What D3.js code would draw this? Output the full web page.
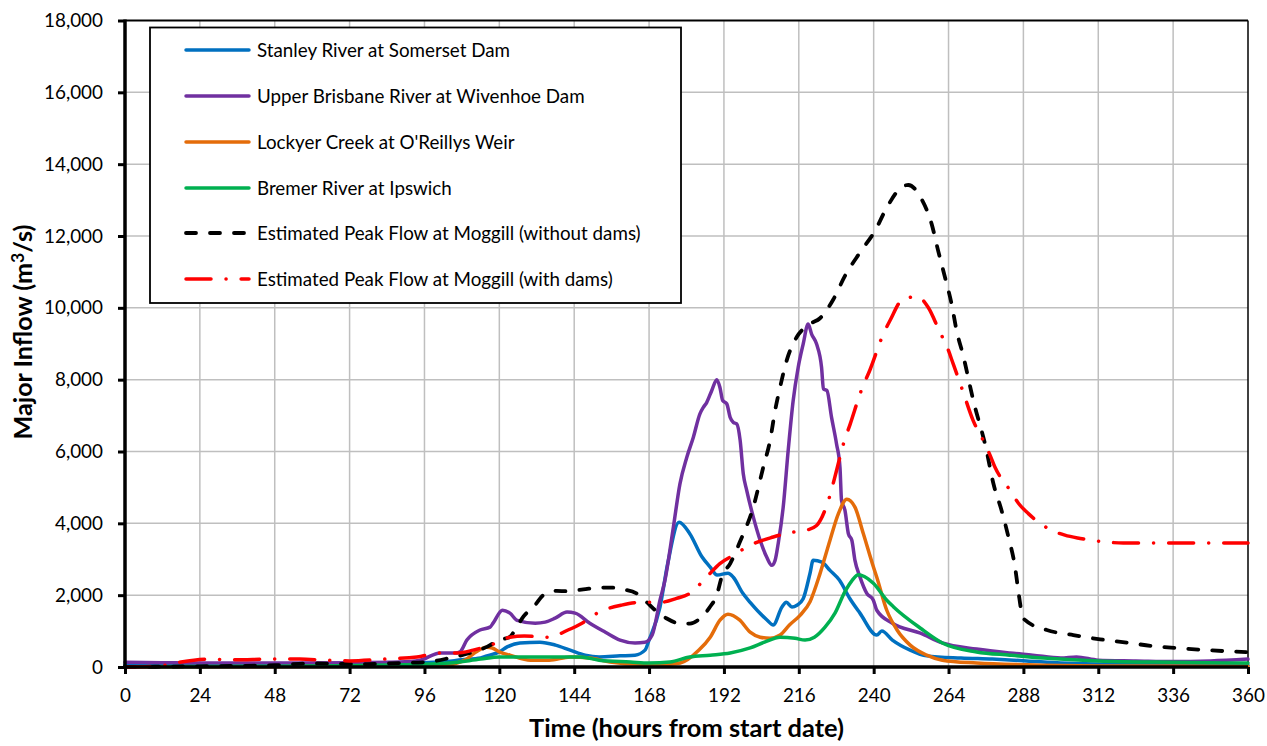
<!DOCTYPE html>
<html><head><meta charset="utf-8">
<script src="https://cdn.jsdelivr.net/npm/d3@7"></script>
<style>body{margin:0;background:#fff}svg{display:block}</style>
</head><body><svg id="c" width="1267" height="746"></svg>
<script>
// ---------- data ----------
const xTicks = d3.range(0, 361, 24);
const yTicks = d3.range(0, 18001, 2000);
const seriesNames = [
  "Stanley River at Somerset Dam",
  "Upper Brisbane River at Wivenhoe Dam",
  "Lockyer Creek at O'Reillys Weir",
  "Bremer River at Ipswich",
  "Estimated Peak Flow at Moggill (without dams)",
  "Estimated Peak Flow at Moggill (with dams)"
];
const xTitle = "Time (hours from start date)";

// [hour, flow m3/s]
const stanley = [[0,60],[24,60],[48,70],[72,80],[88,110],[101,140],[108,200],[114,250],[116,310],[120,420],[122.5,560],[126.6,670],[133,690],[138,610],[142.7,470],[147.5,330],[152,280],[158.7,310],[163.5,330],[166.7,470],[168,750],[171.5,1670],[174,2890],[177.6,4030],[181,3720],[185,3060],[187.6,2780],[189.8,2560],[193.3,2610],[195,2500],[198,2060],[200.4,1800],[205.8,1310],[207.8,1170],[210.6,1670],[212,1800],[213.8,1670],[215.4,1720],[217.4,1900],[219.6,2610],[220.6,2970],[223.4,2920],[226,2690],[229,2420],[232.4,1900],[235.6,1500],[241,890],[242.6,1000],[246,750],[251.7,470],[257,310],[268,250],[278,220],[289,170],[300,110],[312.6,80],[336,60],[360,50]];

const wivenhoe = [[0,130],[12,120],[24,110],[48,110],[72,120],[88,140],[94.6,190],[101,390],[106,390],[107.4,420],[109.6,750],[113.8,1030],[117,1110],[118,1220],[121,1580],[123.4,1500],[125.7,1300],[131.5,1220],[134.7,1250],[137.9,1360],[141.7,1530],[144.3,1500],[149,1220],[154,970],[158.7,750],[163.5,670],[166.7,690],[169,890],[171.5,1860],[173.1,2420],[175.8,3900],[177.9,5100],[180.1,5840],[182.2,6400],[184.3,7050],[185.4,7230],[186.5,7370],[188.1,7700],[189.7,8000],[190.7,7790],[191.6,7420],[192.9,7330],[194,6950],[195,6810],[196.1,6770],[197.2,6310],[198.2,5380],[199.3,4920],[201.4,4180],[203.6,3530],[205.7,3060],[207.3,2830],[208.4,2970],[209.4,3440],[211,4450],[212.6,6030],[214.2,7420],[215.8,8340],[217.4,8990],[219,9550],[220.1,9270],[221.7,8990],[223.3,8340],[223.9,7740],[225,7700],[226.5,6950],[228.1,6210],[229.2,5560],[229.7,4640],[230.8,4360],[231.9,3710],[233,3530],[234,2970],[235.6,2510],[237.8,2050],[239.9,1860],[241,1580],[246,1220],[255,940],[262,670],[273,500],[283.7,390],[291,330],[300,250],[305,280],[312,190],[324,170],[336,150],[348,170],[360,220]];

const lockyer = [[0,10],[48,10],[88,30],[104,60],[107.4,140],[109,190],[112,390],[116,550],[117.7,530],[120,420],[123.4,330],[130,190],[136,190],[142.7,280],[149,250],[155.5,140],[165,80],[174.7,80],[178,110],[184,470],[187.6,830],[190.8,1310],[193.3,1470],[197,1310],[200.4,970],[203.6,830],[206.8,800],[210,890],[213,1170],[216.4,1440],[219.6,1820],[222.8,2600],[226,3530],[228.7,4270],[231.4,4670],[234,4450],[236.7,3710],[239.9,2790],[241,2500],[244.2,1580],[247.5,1030],[251.7,610],[257,330],[262,190],[273,110],[289,60],[312,30],[360,20]];

const bremer = [[0,10],[48,20],[88,60],[104,110],[114,220],[120,280],[130,280],[139.5,280],[146,280],[152,190],[162,140],[168,110],[174.7,140],[181,280],[187.6,330],[194,390],[200.4,530],[205,690],[210,830],[214.8,800],[218,750],[221,830],[224.4,1110],[227.6,1500],[230.8,2100],[233,2400],[235.1,2570],[237,2520],[239.9,2330],[244.2,1860],[246.3,1680],[255,1080],[262,670],[273,420],[283.7,330],[294.5,250],[312,170],[336,130],[360,110]];

const withoutDams = [[0,0],[24,20],[48,50],[60,100],[77.6,80],[88,110],[97,140],[104,250],[111.6,420],[116,560],[120,750],[123.4,840],[125.6,1120],[127.7,1400],[131.4,1720],[134.1,2000],[138.4,2120],[141.6,2110],[146.9,2160],[152.3,2210],[156.5,2210],[159.7,2160],[164,2050],[167.2,1810],[170.5,1540],[173.7,1350],[177.9,1210],[181.1,1210],[184.3,1350],[187.5,1670],[189.7,2000],[191.3,2510],[194,2880],[197.2,3500],[201.4,4450],[204.6,5560],[206.8,6310],[208.4,7140],[210,7790],[212.1,8530],[215.3,9180],[219.6,9550],[222.8,9710],[227.1,10240],[230.8,10890],[235.6,11540],[240.4,12140],[244.2,12790],[249.5,13390],[251.1,13420],[255.4,13020],[258.6,12330],[260.7,11580],[262.9,10840],[265,10100],[266.6,9360],[268.7,8670],[272,7400],[276,6100],[278.4,5100],[281,4360],[283.2,3620],[285.3,2790],[286.4,2100],[287.5,1490],[288.5,1310],[295.5,1030],[304,890],[312.6,770],[321.1,680],[329.7,580],[338.2,520],[346.8,470],[355.3,430],[360,410]];

const withDams = [[0,0],[9,20],[13,50],[18,140],[27,220],[34,200],[48,220],[56,220],[64,190],[72,170],[83,220],[93.6,280],[101,390],[106.4,390],[111.6,470],[119,670],[123.4,830],[128,860],[136,830],[142,1030],[146.5,1220],[152,1530],[159,1720],[165,1800],[171.5,1800],[176.8,1910],[181.1,2050],[186.5,2510],[190.7,2880],[195,3110],[200.4,3390],[207.8,3620],[213,3740],[218.5,3810],[221.7,3940],[225.5,4640],[228.1,5470],[230.3,6210],[232.5,6770],[236.2,7740],[238.8,8270],[243.1,9270],[245.2,9640],[249.5,10250],[254,10310],[257.5,10010],[261.3,9310],[263.4,8940],[265.5,8440],[268.5,7700],[271.9,6860],[275.1,6310],[277.1,5940],[278.9,5560],[283.7,4920],[286.4,4560],[289.6,4270],[296.5,3830],[301.3,3670],[306.2,3580],[314.7,3480],[320,3450],[340,3450],[360,3450]];

const seriesData = [stanley, wivenhoe, lockyer, bremer, withoutDams, withDams];
const seriesColors = ["#0070C0", "#7030A0", "#E46C0A", "#00B050", "#000000", "#FF0000"];

// ---------- drawing ----------
const svg = d3.select("#c");
const FONT = "Lato, 'Open Sans', sans-serif";
const M = {l:125, r:1248, t:20.5, b:667};
const x = d3.scaleLinear().domain([0,360]).range([M.l, M.r]);
const y = d3.scaleLinear().domain([0,18000]).range([M.b, M.t]);

svg.append("rect").attr("width",1267).attr("height",746).attr("fill","#fff");

// grid
const grid = svg.append("g").attr("stroke","#BFBFBF").attr("stroke-width",1.5);
grid.selectAll(".vx").data(xTicks.filter(d=>d>0&&d<360)).join("line")
  .attr("x1",d=>x(d)).attr("x2",d=>x(d)).attr("y1",M.t).attr("y2",M.b);
grid.selectAll(".hy").data(yTicks.filter(d=>d>0&&d<18000)).join("line")
  .attr("x1",M.l).attr("x2",M.r).attr("y1",d=>y(d)).attr("y2",d=>y(d));

// plot border (top/right)
svg.append("line").attr("x1",M.l).attr("x2",M.r).attr("y1",M.t).attr("y2",M.t).attr("stroke","#000").attr("stroke-width",2);
svg.append("line").attr("x1",M.r).attr("x2",M.r).attr("y1",M.t).attr("y2",M.b).attr("stroke","#000").attr("stroke-width",1.5);

// lines
const line = d3.line().x(d=>x(d[0])).y(d=>y(d[1])).curve(d3.curveMonotoneX);
function styleSeries(sel, i){
  sel.attr("fill","none").attr("stroke",seriesColors[i]).attr("stroke-linejoin","round");
  if(i===4){ sel.attr("stroke-width",3.8).attr("stroke-dasharray","10,14").attr("stroke-linecap","round"); }
  else if(i===5){ sel.attr("stroke-width",3.5).attr("stroke-dasharray","25,15,0.1,15").attr("stroke-linecap","round"); }
  else { sel.attr("stroke-width",3.5).attr("stroke-linecap","round"); }
}
const plotG = svg.append("g");
seriesData.forEach((s,i)=>{
  plotG.append("path").datum(s).attr("d",line).call(styleSeries,i);
});

// axes
const yAxis = d3.axisLeft(y).tickValues(yTicks).tickSize(7).tickPadding(15).tickFormat(d3.format(","));
const xAxis = d3.axisBottom(x).tickValues(xTicks).tickSize(7).tickPadding(10).tickFormat(d3.format("d"));
const gy = svg.append("g").attr("transform",`translate(${M.l},0)`).call(yAxis);
const gx = svg.append("g").attr("transform",`translate(0,${M.b})`).call(xAxis);
[gx,gy].forEach(g=>{
  g.select(".domain").attr("stroke","#000").attr("stroke-width",3.5);
  g.selectAll(".tick line").attr("stroke","#000").attr("stroke-width",3);
  g.selectAll("text").attr("fill","#000").attr("font-family",FONT).attr("font-size",18);
});
gy.select(".domain").attr("d",`M-0,${M.b+1.5}V${M.t-1}`);
gx.select(".domain").attr("d",`M${M.l-1.5},0H${M.r}`);
gx.selectAll("text").attr("dy",null).attr("y",35);

function fit(sel, target){
  const w = sel.node().getComputedTextLength();
  const fs = parseFloat(sel.attr("font-size"));
  return fs*target/w;
}
const tfs = fit(gy.selectAll("text").filter(d=>d===18000), 59);
gx.selectAll("text").attr("font-size",tfs);
gy.selectAll("text").attr("font-size",tfs);

// axis titles
const xt = svg.append("text").attr("x",(M.l+M.r)/2).attr("y",737).attr("text-anchor","middle")
  .attr("font-family",FONT).attr("font-weight","bold").attr("font-size",22).text(xTitle);
xt.attr("font-size", fit(xt,315));

const yt = svg.append("text").attr("transform","translate(32,332) rotate(-90)").attr("text-anchor","middle")
  .attr("font-family",FONT).attr("font-weight","bold").attr("font-size",20);
yt.append("tspan").text("Major Inflow (m");
yt.append("tspan").attr("dy",-8).attr("font-size","70%").text("3");
yt.append("tspan").attr("dy",8).text("/s)");
yt.attr("font-size", fit(yt,215));

// legend
const lg = svg.append("g");
lg.append("rect").attr("x",150).attr("y",27.5).attr("width",531).attr("height",275.5)
  .attr("fill","#fff").attr("stroke","#000").attr("stroke-width",1.8);
const rowY = [50,96,142,188,233,279];
const items = lg.selectAll(".it").data(seriesNames).join("g");
items.each(function(n,i){
  const g = d3.select(this);
  g.append("line").attr("x1",186).attr("x2",249).attr("y1",rowY[i]).attr("y2",rowY[i]).call(styleSeries,i);
  g.append("text").attr("x",257).attr("y",rowY[i]).attr("dy","0.35em")
    .attr("font-family",FONT).attr("font-size",18).attr("fill","#000").text(n);
});
const lfs = fit(items.filter((d,i)=>i===4).select("text"), 384);
items.selectAll("text").attr("font-size",lfs);
</script></body></html>
